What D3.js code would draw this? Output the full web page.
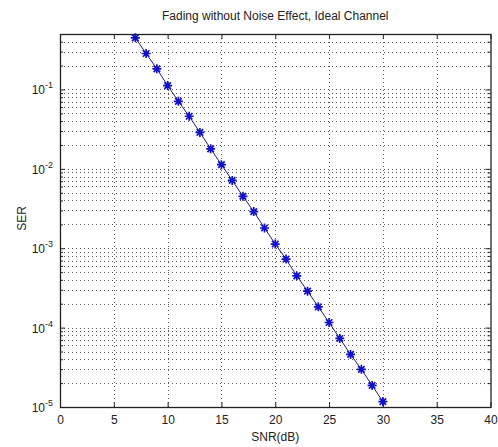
<!DOCTYPE html>
<html>
<head>
<meta charset="utf-8">
<script src="https://cdn.jsdelivr.net/npm/d3@7"></script>
<style>
  body { margin: 0; background: #fff; }
  text { font-family: "Liberation Sans", Arial, sans-serif; fill: #222; }
</style>
</head>
<body>
<div id="chart"></div>
<script>
// SNR in dB and symbol error rate
const snrDb = [7, 8, 9, 10, 11, 12, 13, 14, 15, 16, 17, 18, 19, 20, 21, 22, 23, 24, 25, 26, 27, 28, 29, 30];
const ser = [0.447, 0.284, 0.182, 0.112, 0.071, 0.046, 0.0288, 0.0179, 0.0113, 0.00716, 0.00451, 0.0029,
    0.0018, 0.00113, 0.00073, 4.49e-4, 2.88e-4, 1.83e-4, 1.16e-4, 7.3e-5, 4.6e-5, 2.98e-5, 1.87e-5, 1.17e-5];
const xTicks = [0, 5, 10, 15, 20, 25, 30, 35, 40];
const yDecades = [-5, -4, -3, -2, -1];

const titleText = "Fading without Noise Effect, Ideal Channel";
const xLabel = "SNR(dB)";
const yLabel = "SER";

const W = 498, H = 447;
const MARGIN = { LEFT: 60, RIGHT: 7.5, TOP: 34, BOTTOM: 40 };
const WIDTH = W - MARGIN.LEFT - MARGIN.RIGHT;
const HEIGHT = H - MARGIN.TOP - MARGIN.BOTTOM;

const svg = d3.select("#chart").append("svg")
    .attr("width", W)
    .attr("height", H);

const g = svg.append("g")
    .attr("transform", `translate(${MARGIN.LEFT}, ${MARGIN.TOP})`);

// Scales
const x = d3.scaleLinear().domain([0, 40]).range([0, WIDTH]);
const y = d3.scaleLog().domain([1e-5, 0.5]).range([HEIGHT, 0]);

const majorY = yDecades.map(e => Math.pow(10, e));
const minorY = [];
yDecades.forEach(e => {
    for (let k = 2; k <= 9; k++) {
        const v = k * Math.pow(10, e);
        if (v <= 0.5 + 1e-9) minorY.push(v);
    }
});

// Grid (dotted)
const grid = g.append("g").attr("class", "grid")
    .attr("stroke", "#000")
    .attr("stroke-width", 1)
    .attr("stroke-dasharray", "1,3")
    .attr("opacity", 0.65);

grid.selectAll(".gx")
    .data(xTicks.filter(d => d > 0 && d < 40))
    .join("line")
    .attr("x1", d => Math.round(x(d)) + 0.5)
    .attr("x2", d => Math.round(x(d)) + 0.5)
    .attr("y1", 0)
    .attr("y2", HEIGHT);

grid.selectAll(".gy")
    .data(majorY.concat(minorY).filter(d => d > 1e-5 && d < 0.5))
    .join("line")
    .attr("x1", 0)
    .attr("x2", WIDTH)
    .attr("y1", d => Math.round(y(d)) + 0.5)
    .attr("y2", d => Math.round(y(d)) + 0.5);

// Axes
const xAxisCall = d3.axisBottom(x).tickValues(xTicks).tickSize(-5).tickPadding(8);
const xAxis = g.append("g")
    .attr("class", "x axis")
    .attr("transform", `translate(0, ${HEIGHT})`)
    .call(xAxisCall);

g.append("g")
    .attr("class", "x axis top")
    .call(d3.axisTop(x).tickValues(xTicks).tickSize(-5).tickFormat(""));

g.append("g")
    .attr("class", "y axis")
    .call(d3.axisLeft(y).tickValues(majorY).tickSize(-5).tickFormat(""));

g.append("g").attr("class", "y minor")
    .call(d3.axisLeft(y).tickValues(minorY).tickSize(-3).tickFormat(""));

g.append("g").attr("class", "y right")
    .attr("transform", `translate(${WIDTH}, 0)`)
    .call(d3.axisRight(y).tickValues(majorY).tickSize(-5).tickFormat(""));

g.append("g").attr("class", "y right minor")
    .attr("transform", `translate(${WIDTH}, 0)`)
    .call(d3.axisRight(y).tickValues(minorY).tickSize(-3).tickFormat(""));

g.selectAll(".tick line").attr("stroke", "#222");
g.selectAll(".domain").remove();

// Box
g.append("rect")
    .attr("x", 0.5)
    .attr("y", 0.5)
    .attr("width", WIDTH)
    .attr("height", HEIGHT)
    .attr("fill", "none")
    .attr("stroke", "#222")
    .attr("stroke-width", 1.3);

xAxis.selectAll("text")
    .attr("font-size", 12)
    .attr("fill", "#222");

// y labels as 10^n
const yLab = g.append("g").attr("class", "y labels");
yDecades.forEach(e => {
    const t = yLab.append("text")
        .attr("x", -7)
        .attr("y", y(Math.pow(10, e)) + 5)
        .attr("text-anchor", "end")
        .attr("font-size", 12);
    t.append("tspan").text("10");
    t.append("tspan").attr("dy", -6).attr("font-size", 9).text(e);
});

// Line and markers
const line = d3.line()
    .x((d, i) => x(snrDb[i]))
    .y(d => y(d));

g.append("path")
    .datum(ser)
    .attr("fill", "none")
    .attr("stroke", "#1c1c7a")
    .attr("stroke-width", 1)
    .attr("d", line);

const r = 4.5, rd = r * 0.72;
const star = `M${-r},0L${r},0M0,${-r}L0,${r}M${-rd},${-rd}L${rd},${rd}M${-rd},${rd}L${rd},${-rd}`;

g.selectAll(".marker")
    .data(ser)
    .join("path")
    .attr("class", "marker")
    .attr("transform", (d, i) => `translate(${x(snrDb[i])}, ${y(d)})`)
    .attr("d", star)
    .attr("stroke", "#1010c8")
    .attr("stroke-width", 1.7)
    .attr("fill", "none");

// Title and labels
svg.append("text")
    .attr("x", MARGIN.LEFT + WIDTH / 2)
    .attr("y", 20)
    .attr("text-anchor", "middle")
    .attr("font-size", 12)
    .text(titleText);

svg.append("text")
    .attr("x", MARGIN.LEFT + WIDTH / 2)
    .attr("y", 441)
    .attr("text-anchor", "middle")
    .attr("font-size", 12)
    .text(xLabel);

svg.append("text")
    .attr("transform", `translate(26, ${MARGIN.TOP + HEIGHT / 2 - 2}) rotate(-90)`)
    .attr("text-anchor", "middle")
    .attr("font-size", 12)
    .text(yLabel);
</script>
</body>
</html>
